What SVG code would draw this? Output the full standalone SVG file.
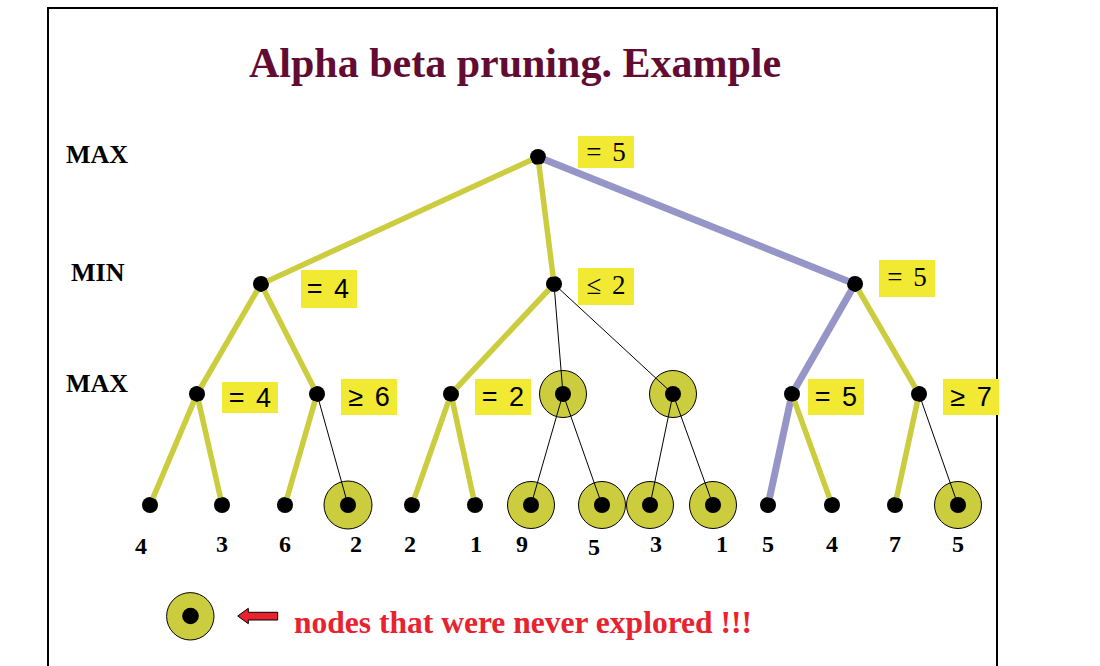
<svg xmlns="http://www.w3.org/2000/svg" width="1100" height="666" viewBox="0 0 1100 666">
<style>
.lbl{font-family:"Liberation Serif","Times New Roman",serif;font-weight:bold;fill:#000}
.lvl{font-size:26px}
.leaf{font-size:24px;text-anchor:middle}
.box{fill:#f2e933}
.bs{font-family:"Liberation Sans",Arial,sans-serif;font-size:27px;text-anchor:middle;word-spacing:4px}
.bt{font-family:"Liberation Serif","Times New Roman",serif;font-size:27px;text-anchor:middle;word-spacing:4px}
.dot{fill:#000}
.ring{fill:#cccc3f;stroke:#000;stroke-width:1}
.y{stroke:#cccc3f;stroke-width:5.5;fill:none}
.b{stroke:#9595c8;stroke-width:7;fill:none}
.t{stroke:#000;stroke-width:1;fill:none}
</style>
<rect width="1100" height="666" fill="#fff"/>
<path d="M48,672 V8 H997 V672" fill="none" stroke="#000" stroke-width="2"/>
<text x="515" y="77" text-anchor="middle" style="font-family:'Liberation Serif','Times New Roman',serif;font-weight:bold;font-size:42px;fill:#620c33">Alpha beta pruning. Example</text>
<g id="levels">
<text class="lbl lvl" x="66" y="163">MAX</text>
<text class="lbl lvl" x="71" y="281">MIN</text>
<text class="lbl lvl" x="66" y="392">MAX</text>
</g>
<g id="root"><circle class="dot" cx="538" cy="157" r="8"/><rect class="box" x="578" y="136" width="56" height="32"/><text class="bt" x="606" y="161">= 5</text></g>
<g id="minA"><circle class="dot" cx="261" cy="284" r="8"/><rect class="box" x="301" y="270" width="56" height="38"/><text class="bs" x="328" y="298">= 4</text></g>
<g id="minB"><circle class="dot" cx="554" cy="284" r="8"/><rect class="box" x="578" y="268" width="56" height="37"/><text class="bt" x="606" y="294">≤ 2</text></g>
<g id="minC"><circle class="dot" cx="855" cy="284" r="8"/><rect class="box" x="879" y="260" width="56" height="37"/><text class="bt" x="907" y="286">= 5</text></g>
<g id="max1"><circle class="dot" cx="197" cy="394" r="8"/><rect class="box" x="222" y="382" width="56" height="31"/><text class="bs" x="250" y="407">= 4</text></g>
<g id="max2"><circle class="dot" cx="317" cy="394" r="8"/><rect class="box" x="341" y="379" width="56" height="36"/><text class="bs" x="369" y="406">≥ 6</text></g>
<g id="max3"><circle class="dot" cx="451" cy="394" r="8"/><rect class="box" x="475" y="379" width="56" height="36"/><text class="bs" x="503" y="406">= 2</text></g>
<g id="max4"><circle class="ring" cx="563" cy="394" r="23.5"/><circle class="dot" cx="563" cy="394" r="8"/></g>
<g id="max5"><circle class="ring" cx="673" cy="394" r="23.5"/><circle class="dot" cx="673" cy="394" r="8"/></g>
<g id="max6"><circle class="dot" cx="792" cy="394" r="8"/><rect class="box" x="808" y="379" width="56" height="36"/><text class="bs" x="836" y="406">= 5</text></g>
<g id="max7"><circle class="dot" cx="919" cy="394" r="8"/><rect class="box" x="943" y="379" width="56" height="36"/><text class="bs" x="971" y="406">≥ 7</text></g>
<g id="leaf1"><circle class="dot" cx="150" cy="505" r="8"/><text class="lbl leaf" x="141" y="554">4</text></g>
<g id="leaf2"><circle class="dot" cx="222" cy="505" r="8"/><text class="lbl leaf" x="222" y="552">3</text></g>
<g id="leaf3"><circle class="dot" cx="285" cy="505" r="8"/><text class="lbl leaf" x="285" y="552">6</text></g>
<g id="leaf4"><circle class="ring" cx="348" cy="505" r="24"/><circle class="dot" cx="348" cy="505" r="8"/><text class="lbl leaf" x="356" y="552">2</text></g>
<g id="leaf5"><circle class="dot" cx="412" cy="505" r="8"/><text class="lbl leaf" x="410" y="552">2</text></g>
<g id="leaf6"><circle class="dot" cx="475" cy="505" r="8"/><text class="lbl leaf" x="476" y="552">1</text></g>
<g id="leaf7"><circle class="ring" cx="531" cy="505" r="23.5"/><circle class="dot" cx="531" cy="505" r="8"/><text class="lbl leaf" x="522" y="552">9</text></g>
<g id="leaf8"><circle class="ring" cx="602" cy="505" r="23.5"/><circle class="dot" cx="602" cy="505" r="8"/><text class="lbl leaf" x="594" y="555">5</text></g>
<g id="leaf9"><circle class="ring" cx="650" cy="505" r="23.5"/><circle class="dot" cx="650" cy="505" r="8"/><text class="lbl leaf" x="656" y="552">3</text></g>
<g id="leaf10"><circle class="ring" cx="713" cy="505" r="23.5"/><circle class="dot" cx="713" cy="505" r="8"/><text class="lbl leaf" x="722" y="552">1</text></g>
<g id="leaf11"><circle class="dot" cx="768" cy="505" r="8"/><text class="lbl leaf" x="768" y="552">5</text></g>
<g id="leaf12"><circle class="dot" cx="832" cy="505" r="8"/><text class="lbl leaf" x="832" y="552">4</text></g>
<g id="leaf13"><circle class="dot" cx="895" cy="505" r="8"/><text class="lbl leaf" x="895" y="552">7</text></g>
<g id="leaf14"><circle class="ring" cx="958" cy="505" r="23.5"/><circle class="dot" cx="958" cy="505" r="8"/><text class="lbl leaf" x="958" y="552">5</text></g>
<g id="connectors">
<line class="y" x1="531.2" y1="160.1" x2="267.8" y2="280.9"/>
<line class="y" x1="538.9" y1="164.4" x2="553.1" y2="276.6"/>
<line class="b" x1="545.0" y1="159.8" x2="848.0" y2="281.2"/>
<line class="y" x1="257.2" y1="290.5" x2="200.8" y2="387.5"/>
<line class="y" x1="264.4" y1="290.7" x2="313.6" y2="387.3"/>
<line class="y" x1="548.9" y1="289.5" x2="456.1" y2="388.5"/>
<line class="t" x1="554.6" y1="291.5" x2="562.4" y2="386.5"/>
<line class="t" x1="559.5" y1="289.1" x2="667.5" y2="388.9"/>
<line class="b" x1="851.3" y1="290.5" x2="795.7" y2="387.5"/>
<line class="y" x1="858.8" y1="290.5" x2="915.2" y2="387.5"/>
<line class="y" x1="194.1" y1="400.9" x2="152.9" y2="498.1"/>
<line class="y" x1="198.6" y1="401.3" x2="220.4" y2="497.7"/>
<line class="y" x1="314.9" y1="401.2" x2="287.1" y2="497.8"/>
<line class="t" x1="319.0" y1="401.2" x2="346.0" y2="497.8"/>
<line class="y" x1="448.5" y1="401.1" x2="414.5" y2="497.9"/>
<line class="y" x1="452.6" y1="401.3" x2="473.4" y2="497.7"/>
<line class="t" x1="560.9" y1="401.2" x2="533.1" y2="497.8"/>
<line class="t" x1="565.5" y1="401.1" x2="599.5" y2="497.9"/>
<line class="t" x1="671.5" y1="401.3" x2="651.5" y2="497.7"/>
<line class="t" x1="675.5" y1="401.1" x2="710.5" y2="497.9"/>
<line class="b" x1="790.4" y1="401.3" x2="769.6" y2="497.7"/>
<line class="y" x1="794.5" y1="401.1" x2="829.5" y2="497.9"/>
<line class="y" x1="917.4" y1="401.3" x2="896.6" y2="497.7"/>
<line class="t" x1="921.5" y1="401.1" x2="955.5" y2="497.9"/>
</g>
<g id="legend">
<circle class="ring" cx="190.3" cy="616.3" r="23.7"/>
<circle class="dot" cx="190.5" cy="616" r="8.3"/>
<polygon points="237.7,616 248.3,608.3 248.3,612.3 277.7,612.3 277.7,620 248.3,620 248.3,623.7" fill="#e8232f" stroke="#000" stroke-width="1"/>
<text x="294" y="633" textLength="458" lengthAdjust="spacingAndGlyphs" style="font-family:'Liberation Serif','Times New Roman',serif;font-weight:bold;font-size:31px;fill:#e8232f">nodes that were never explored !!!</text>
</g>
</svg>
